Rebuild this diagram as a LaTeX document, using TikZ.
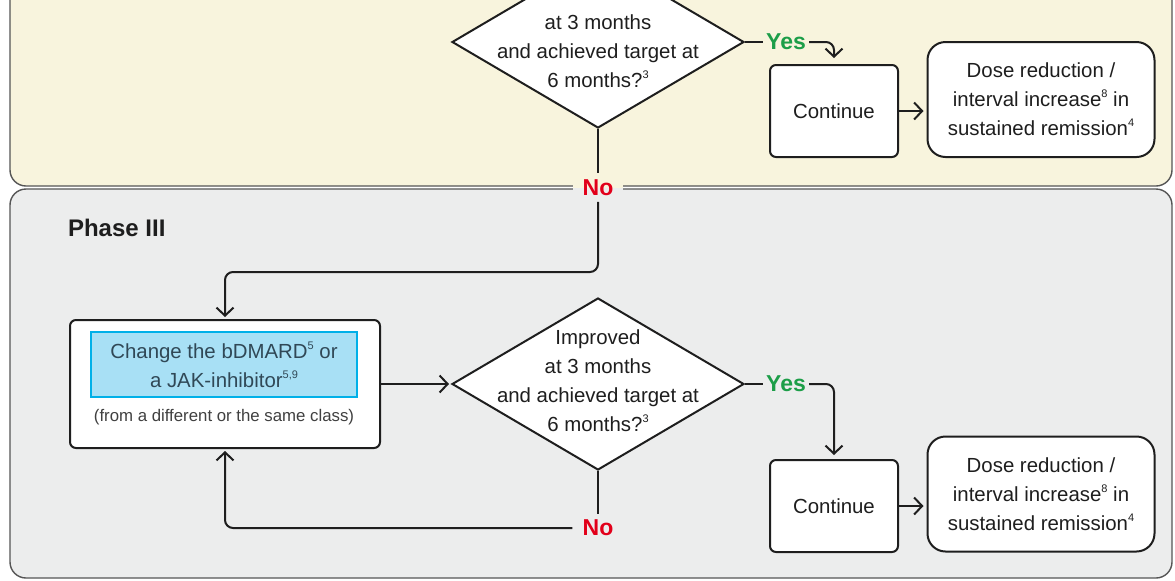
\documentclass[tikz,border=0pt]{standalone}
\usepackage{fontspec}
\setmainfont{Liberation Sans}
\usetikzlibrary{shapes.geometric,arrows.meta}

\definecolor{creampanel}{RGB}{248,244,221}
\definecolor{greypanel}{RGB}{236,237,237}
\definecolor{panelline}{RGB}{85,85,85}
\definecolor{boxline}{RGB}{30,30,30}
\definecolor{yesgreen}{RGB}{28,158,72}
\definecolor{nored}{RGB}{226,0,26}
\definecolor{cyanfill}{RGB}{168,224,245}
\definecolor{cyanline}{RGB}{0,176,232}
\definecolor{cyantext}{RGB}{48,72,86}

\newcommand\bodyfont{\fontsize{10.2}{14.5}\selectfont}
\newcommand\answerfont{\fontsize{11.5}{13}\selectfont\bfseries}
\newcommand\notefont{\fontsize{8.4}{10}\selectfont}
\newcommand\supnum[1]{\raisebox{0.85ex}{\fontsize{5.5}{6}\selectfont #1}}

\tikzset{
	panel/.style={draw=panelline, line width=0.7pt, rounded corners=8pt},
	question/.style={shape=diamond, draw=boxline, fill=white, line width=1pt, minimum width=146pt, minimum height=86pt, inner sep=0pt},
	qtext/.style={align=center, font=\bodyfont, text=boxline},
	contbox/.style={draw=boxline, fill=white, line width=1pt, rounded corners=3pt, minimum width=64pt, minimum height=46pt, font=\bodyfont, text=boxline},
	dosebox/.style={draw=boxline, fill=white, line width=1pt, rounded corners=9pt, minimum width=113.5pt, minimum height=57.5pt, align=center, font=\bodyfont, text=boxline},
	chgbox/.style={draw=boxline, fill=white, line width=1pt, rounded corners=3pt, minimum width=155pt, minimum height=64pt},
	drugbox/.style={draw=cyanline, fill=cyanfill, line width=1pt, minimum width=133pt, minimum height=32.5pt, align=center, font=\bodyfont, text=cyantext},
	notetext/.style={font=\notefont, text=boxline!85},
	phaselabel/.style={font=\fontsize{12}{14}\selectfont\bfseries, text=boxline},
	yeslabel/.style={text=yesgreen, font=\answerfont, inner sep=1.5pt},
	nolabel/.style={text=nored, font=\answerfont, inner xsep=5pt, inner ysep=3pt},
	splitfill/.style={fill=greypanel, path picture={\fill[creampanel] (path picture bounding box.north west) rectangle (path picture bounding box.east);}},
	flow/.style={line width=1pt, draw=boxline, rounded corners=4pt},
	arr/.style={flow, -{Straight Barb[length=4pt,width=8.5pt]}},
}

\begin{document}
\begin{tikzpicture}[x=0.5pt,y=-0.5pt]
	\useasboundingbox (0,0) rectangle (1175,580);
	\clip (0,0) rectangle (1175,580);
	\draw[panel, fill=creampanel] (10,-40) rectangle (1172,186);
	\draw[panel, fill=greypanel] (10,189) rectangle (1172,578);
	\node[phaselabel, anchor=west] (phase) at (61,228) {Phase III};

	\node[question] (q1) at (598,42) {};
	\node[qtext] (q1txt) at (598,51) {at 3 months\\and achieved target at\\6 months?\supnum{3}};
	\node[contbox] (cont1) at (834,111) {Continue};
	\node[dosebox] (dose1) at (1041,99.5) {Dose reduction /\\interval increase\supnum{8} in\\sustained remission\supnum{4}};
	\node[yeslabel] (yes1) at (786,42) {Yes};
	\node[nolabel, splitfill] (no1) at (598,187.5) {No};

	\node[chgbox] (chg) at (225,384) {};
	\node[drugbox] (drug) at (224,364.5) {Change the bDMARD\supnum{5} or\\a JAK-inhibitor\supnum{5,9}};
	\node[notetext] (cls) at (224,417) {(from a different or the same class)};
	\node[question] (q2) at (598,384) {};
	\node[qtext] (q2txt) at (598,381) {Improved\\at 3 months\\and achieved target at\\6 months?\supnum{3}};
	\node[contbox] (cont2) at (834,506) {Continue};
	\node[dosebox] (dose2) at (1041,494) {Dose reduction /\\interval increase\supnum{8} in\\sustained remission\supnum{4}};
	\node[yeslabel] (yes2) at (786,384) {Yes};
	\node[nolabel] (no2) at (598,528) {No};

	\coordinate (bend1) at (598,272);

	\draw[flow] (q1.east) -- (yes1.west);
	\draw[arr, shorten >=3pt] (yes1.east) -| (cont1.north);
	\draw[arr, shorten >=1.5pt] (cont1.east) -- (cont1.east -| dose1.west);
	\draw[flow] (q1.south) -- (no1.north);
	\draw[arr, shorten >=1pt] (no1.south) -- (bend1) -| (chg.north);

	\draw[arr, shorten >=1pt] (chg.east) -- (q2.west);
	\draw[flow] (q2.east) -- (yes2.west);
	\draw[arr, shorten >=2pt] (yes2.east) -| (cont2.north);
	\draw[arr, shorten >=1.5pt] (cont2.east) -- (cont2.east -| dose2.west);
	\draw[flow] (q2.south) -- (no2.north);
	\draw[arr, shorten >=1pt] (no2.west) -| (chg.south);
\end{tikzpicture}
\end{document}
